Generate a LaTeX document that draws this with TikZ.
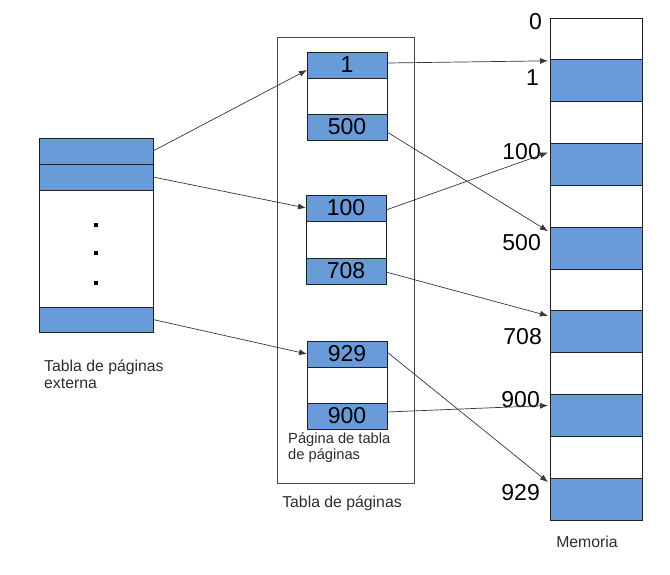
\documentclass[tikz,border=0pt]{standalone}
\usepackage{fontspec}
\setmainfont{Liberation Sans}
\usetikzlibrary{arrows.meta}
\definecolor{cellblue}{RGB}{104,155,215}
\definecolor{edgecol}{RGB}{30,32,40}
\definecolor{txtcol}{RGB}{45,45,45}
\definecolor{arrcol}{RGB}{55,55,55}
\definecolor{boxcol}{RGB}{70,70,70}
\begin{document}
\begin{tikzpicture}[x=1pt,y=-1pt,
  wcell/.style={draw=edgecol,line width=0.8pt,fill=white,inner sep=0pt,outer sep=0pt,anchor=north west,
    text=black,font=\fontsize{23}{23}\selectfont},
  bcell/.style={wcell,fill=cellblue},
  numlbl/.style={inner sep=0pt,text=black,font=\fontsize{23}{23}\selectfont,anchor=east},
  lbl/.style={inner sep=0pt,text=txtcol,font=\fontsize{15.8}{17}\selectfont},
  lblsmall/.style={inner sep=0pt,text=txtcol,font=\fontsize{14.7}{16.5}\selectfont},
  arrow/.style={draw=arrcol,line width=0.7pt,-{Latex[length=8pt,width=6pt]}},
  dotmark/.style={fill=black,inner sep=0pt,minimum size=3.2pt}
]
\useasboundingbox[fill=white] (0,0) rectangle (670,574);

% outer table of pages
\node[draw=boxcol,line width=0.8pt,inner sep=0pt,outer sep=0pt,anchor=north west,
      minimum width=137pt,minimum height=446pt] (T) at (277,37) {};

% external page table
\node[bcell,minimum width=114pt,minimum height=26pt] (L1) at (39,138) {};
\node[bcell,minimum width=114pt,minimum height=26pt] (L2) at (39,164) {};
\node[wcell,minimum width=114pt,minimum height=117pt] (L3) at (39,190) {};
\node[bcell,minimum width=114pt,minimum height=25pt] (L4) at (39,307) {};
\node[dotmark] (d1) at (96,225) {};
\node[dotmark] (d2) at (96,253) {};
\node[dotmark] (d3) at (96,283) {};
\node[lbl,anchor=north west,align=left] (ext) at (44,359.5) {Tabla de páginas\\externa};

% page 1
\node[bcell,minimum width=80pt,minimum height=26pt] (P1a) at (307,52) {1};
\node[wcell,minimum width=80pt,minimum height=36pt] (P1b) at (307,78) {};
\node[bcell,minimum width=80pt,minimum height=26pt] (P1c) at (307,114) {500};
% page 2
\node[bcell,minimum width=80pt,minimum height=26pt] (P2a) at (306,195) {100};
\node[wcell,minimum width=80pt,minimum height=37pt] (P2b) at (306,221) {};
\node[bcell,minimum width=80pt,minimum height=26pt] (P2c) at (306,258) {708};
% page 3
\node[bcell,minimum width=80pt,minimum height=26pt] (P3a) at (307,341) {929};
\node[wcell,minimum width=80pt,minimum height=36pt] (P3b) at (307,367) {};
\node[bcell,minimum width=80pt,minimum height=26pt] (P3c) at (307,403) {900};
\node[lblsmall,anchor=north west,align=left] (pgt) at (288,432) {Página de tabla\\de páginas};
\node[lbl,anchor=base] (tp) at (342,507) {Tabla de páginas};

% memory
\foreach \i in {0,2,...,10}{
  \node[wcell,minimum width=92pt,minimum height=41.83pt] (M\i) at (550,{18+41.83*\i}) {};
}
\foreach \i in {1,3,...,11}{
  \node[bcell,minimum width=92pt,minimum height=41.83pt] (M\i) at (550,{18+41.83*\i}) {};
}
\node[lbl,anchor=base] (mem) at (587,547) {Memoria};

\node[numlbl] (n0) at (542,22) {0};
\node[numlbl] (n1) at (539,78) {1};
\node[numlbl] (n100) at (541,152) {100};
\node[numlbl] (n500) at (541,243) {500};
\node[numlbl] (n708) at (542,337) {708};
\node[numlbl] (n900) at (540,400) {900};
\node[numlbl] (n929) at (540,493) {929};

% arrows
\draw[arrow] (L1.east) -- ([yshift=-5pt]P1a.west);
\draw[arrow] (L2.east) -- (P2a.west);
\draw[arrow] (L4.east) -- (P3a.west);
\draw[arrow] ([yshift=2pt]P1a.east) -- ([xshift=-2pt,yshift=-1pt]M1.north west);
\draw[arrow] ([yshift=-5pt]P1c.east) -- ([xshift=-2pt,yshift=-4pt]M5.north west);
\draw[arrow] ([yshift=-2pt]P2a.east) -- ([xshift=-2pt,yshift=-9pt]M3.north west);
\draw[arrow] ([yshift=-1pt]P2c.east) -- ([xshift=-2pt,yshift=-5pt]M7.north west);
\draw[arrow] ([yshift=2pt]P3a.east) -- ([xshift=-2pt,yshift=-4pt]M11.north west);
\draw[arrow] ([yshift=4pt]P3c.east) -- ([xshift=-2pt,yshift=-11pt]M9.north west);
\end{tikzpicture}
\end{document}
